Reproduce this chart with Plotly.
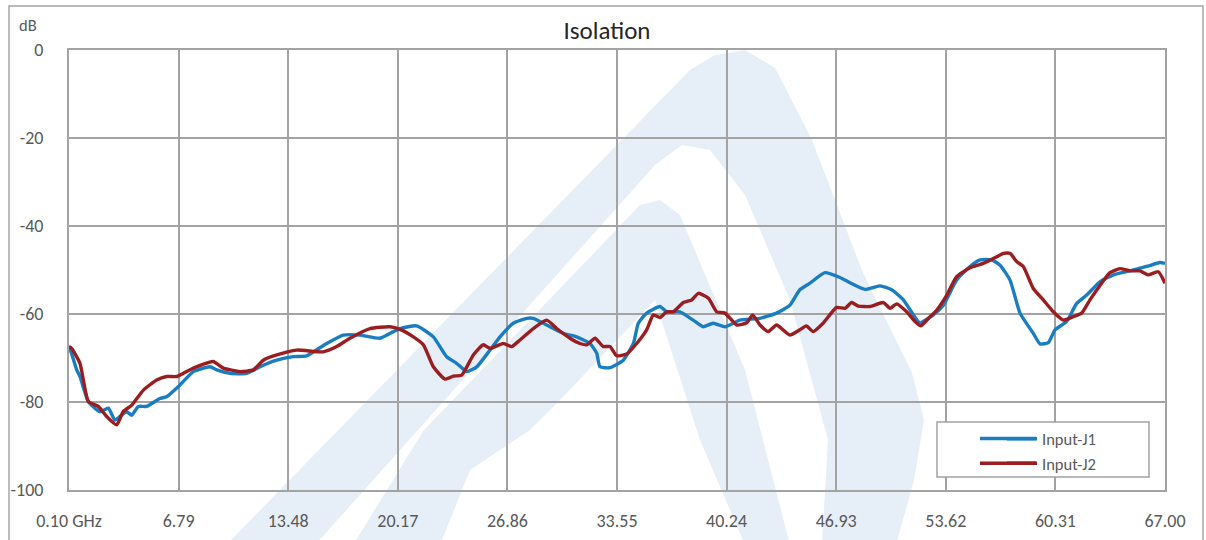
import plotly.graph_objects as go

# ---------------- data ----------------
freq_j1 = [0.10, 0.26, 0.57, 0.77, 1.28, 1.99, 2.50, 2.90, 3.30, 3.62, 3.93, 4.33, 4.84, 5.65, 6.06,
           6.88, 7.69, 8.71, 9.12, 9.93, 10.95, 11.76, 12.78, 13.79, 14.60, 15.83, 16.84, 17.86,
           19.08, 19.90, 20.30, 21.32, 22.34, 23.15, 23.76, 24.38, 24.99, 25.80, 26.41, 27.22,
           28.04, 28.44, 29.26, 30.27, 31.09, 31.90, 32.31, 32.51, 33.12, 33.93, 34.55, 34.85,
           35.36, 36.17, 36.58, 37.39, 38.20, 38.81, 39.42, 40.14, 41.05, 42.27, 43.29, 44.10,
           44.71, 45.33, 46.24, 47.16, 47.77, 48.69, 49.60, 50.32, 51.03, 51.64, 52.04, 52.86,
           53.47, 54.28, 55.10, 55.71, 56.42, 56.93, 57.54, 58.15, 58.96, 59.37, 59.88, 60.29,
           61.00, 61.61, 62.22, 63.03, 63.85, 64.86, 65.88, 66.70, 67.00]
iso_j1 = [-67.4, -69.0, -72.7, -74.2, -79.9, -82.2, -81.4, -84.1, -83.0, -82.2, -83.0, -81.0, -81.0,
          -79.2, -78.8, -76.1, -73.1, -72.0, -72.7, -73.5, -73.5, -72.0, -70.5, -69.7, -69.5,
          -66.7, -64.8, -64.8, -65.5, -64.0, -63.3, -62.7, -65.2, -69.7, -71.2, -73.1, -72.0,
          -68.2, -65.2, -62.1, -61.0, -61.0, -62.5, -64.4, -65.2, -66.7, -68.9, -72.0, -72.2,
          -70.5, -66.7, -62.1, -59.8, -58.3, -59.5, -59.5, -61.4, -62.9, -62.1, -62.9, -61.4,
          -61.0, -59.8, -58.0, -54.5, -53.0, -50.6, -51.7, -52.9, -54.4, -53.6, -54.5, -56.8,
          -60.2, -62.0, -60.2, -58.0, -52.3, -49.2, -47.7, -47.7, -48.9, -52.3, -59.8, -64.4,
          -66.8, -66.5, -63.6, -61.7, -57.6, -55.7, -52.7, -51.1, -50.2, -49.2, -48.3, -48.5]

freq_j2 = [0.10, 0.26, 0.77, 1.28, 1.89, 2.40, 3.01, 3.41, 3.93, 4.64, 5.45, 6.06, 6.67, 7.69, 8.90,
           9.52, 10.54, 11.35, 11.96, 12.78, 14.00, 15.62, 16.44, 17.25, 18.47, 19.69, 20.30,
           21.12, 21.73, 22.34, 23.05, 23.56, 24.07, 24.78, 25.39, 25.80, 26.61, 27.12, 27.63,
           28.44, 29.26, 29.87, 30.68, 31.29, 31.70, 32.21, 32.71, 33.12, 33.53, 34.14, 34.75,
           35.36, 35.77, 36.17, 36.58, 36.99, 37.60, 38.11, 38.52, 39.13, 39.64, 40.14, 40.86,
           41.47, 41.83, 42.28, 42.78, 43.29, 44.10, 44.71, 45.11, 45.52, 46.13, 46.95, 47.47,
           47.87, 48.28, 48.99, 49.81, 50.22, 50.62, 51.23, 51.74, 52.09, 52.66, 53.07, 53.68,
           54.28, 55.10, 55.91, 56.73, 57.13, 57.54, 57.95, 58.35, 58.96, 59.57, 60.18, 60.79,
           61.40, 61.91, 62.42, 63.13, 63.64, 64.25, 64.86, 65.47, 65.98, 66.59, 67.00]
iso_j2 = [-67.4, -67.8, -71.2, -79.9, -81.0, -83.3, -85.2, -82.2, -80.7, -77.3, -75.0, -74.2, -74.2,
          -72.3, -70.8, -72.3, -73.1, -72.7, -70.5, -69.3, -68.2, -68.6, -67.4, -65.5, -63.3,
          -62.9, -63.5, -65.2, -67.0, -72.0, -74.8, -74.1, -73.9, -69.3, -67.0, -67.8, -66.7,
          -67.4, -65.9, -63.3, -61.4, -63.3, -65.5, -66.7, -67.0, -65.5, -67.4, -67.4, -69.5,
          -69.1, -66.7, -63.6, -60.2, -60.8, -59.5, -59.5, -57.4, -56.8, -55.3, -56.4, -59.5,
          -59.8, -62.5, -62.0, -60.2, -62.5, -64.0, -62.5, -64.8, -63.6, -62.7, -64.0, -62.1,
          -58.5, -58.7, -57.4, -58.2, -58.3, -57.4, -58.7, -57.7, -59.5, -61.7, -62.7, -60.6,
          -59.1, -55.7, -51.5, -49.5, -48.5, -47.0, -46.2, -46.2, -48.1, -49.2, -54.2, -56.8,
          -59.5, -61.4, -60.6, -59.8, -56.8, -53.0, -50.6, -49.7, -50.2, -50.2, -51.1, -50.4,
          -53.0]

series_names = ["Input-J1", "Input-J2"]
x_tick_vals = [0.10, 6.79, 13.48, 20.17, 26.86, 33.55, 40.24, 46.93, 53.62, 60.31, 67.00]
x_tick_text = ["0.10 GHz", "6.79", "13.48", "20.17", "26.86", "33.55", "40.24", "46.93",
               "53.62", "60.31", "67.00"]
y_tick_vals = [0, -20, -40, -60, -80, -100]
y_tick_text = ["0", "-20", "-40", "-60", "-80", "-100"]

# ---------------- styling ----------------
W, H = 1206, 540
L, R, T, B = 69, 1165, 50, 490
FONT = "Calibri, Carlito, Lato, sans-serif"
GRID = "#A3A3A3"
TXT = "#595959"
BLUE = "#1A7DC2"
RED = "#9B1D20"
WM = "#E6EEF7"


def px(x):
    return (x - L) / (R - L)


def py(y):
    return (B - y) / (B - T)


def path(pts):
    return "M " + " L ".join(f"{px(a):.4f},{py(b):.4f}" for a, b in pts) + " Z"


fig = go.Figure()
fig.add_trace(go.Scatter(x=freq_j1, y=iso_j1, mode="lines", name=series_names[0],
                         line=dict(color=BLUE, width=3.4, shape="spline", smoothing=0.5)))
fig.add_trace(go.Scatter(x=freq_j2, y=iso_j2, mode="lines", name=series_names[1],
                         line=dict(color=RED, width=3.4, shape="spline", smoothing=0.5)))

shapes = []
# faint watermark logo (decorative)
outer = [(231, 540), (690, 70), (715, 55), (745, 50), (775, 68), (812, 140), (863, 273),
         (912, 373), (924, 420), (914, 480), (896, 545), (822, 545), (828, 440), (790, 300),
         (745, 195), (710, 150), (682, 145), (655, 165), (315, 545)]
shapes.append(dict(type="path", path=path(outer), xref="paper", yref="paper",
                   fillcolor=WM, line=dict(width=0), layer="below"))
inner_a = [(353, 545), (424, 430), (640, 205), (660, 200), (680, 215), (745, 370), (790, 545),
           (745, 545), (700, 440), (655, 300), (560, 400), (530, 430), (470, 470), (440, 545)]
shapes.append(dict(type="path", path=path(inner_a), xref="paper", yref="paper",
                   fillcolor=WM, line=dict(width=0), layer="below"))

# legend box
shapes.append(dict(type="rect", xref="paper", yref="paper", x0=px(937), x1=px(1149),
                   y0=py(477), y1=py(422), line=dict(color=GRID, width=1.5),
                   fillcolor="white", layer="above"))
# longer legend line samples, laid over the legend's own short samples
for yy, col in ((438.5, BLUE), (463.2, RED)):
    shapes.append(dict(type="line", xref="paper", yref="paper", x0=px(980), x1=px(1036),
                       y0=py(yy), y1=py(yy), line=dict(color=col, width=3.4),
                       layer="above"))
# outer chart frame
shapes.append(dict(type="rect", xref="paper", yref="paper", x0=px(9), x1=px(1203),
                   y0=py(580), y1=py(6), line=dict(color="#A6A6A6", width=1.5),
                   fillcolor="rgba(0,0,0,0)", layer="above"))

fig.update_layout(
    width=W, height=H,
    margin=dict(l=L, r=W - R, t=T, b=H - B, autoexpand=False),
    paper_bgcolor="white", plot_bgcolor="rgba(0,0,0,0)",
    font=dict(family=FONT, color=TXT, size=18),
    title=dict(text="Isolation", x=607 / W, xanchor="center", y=1 - 30 / H,
               yanchor="middle", font=dict(size=25, color="#262626", family=FONT)),
    showlegend=True,
    legend=dict(x=px(1002), y=py(421.5), xanchor="left", yanchor="top",
                bgcolor="rgba(0,0,0,0)", borderwidth=0, font=dict(size=16.5, color=TXT),
                tracegroupgap=0),
    shapes=shapes,
    annotations=[dict(text="dB", xref="paper", yref="paper", x=px(17), y=py(25),
                      xanchor="left", yanchor="middle", showarrow=False,
                      font=dict(size=16.5, color=TXT, family=FONT))],
)

fig.update_xaxes(range=[0.10, 67.00], tickvals=x_tick_vals, ticktext=x_tick_text,
                 showgrid=True, gridcolor=GRID, gridwidth=2, zeroline=False,
                 showline=True, linecolor=GRID, linewidth=2, mirror=True, automargin=False,
                 ticks="", ticklabelstandoff=13, tickfont=dict(size=18, color=TXT))
fig.update_yaxes(range=[-100, 0], tickvals=y_tick_vals, ticktext=y_tick_text,
                 showgrid=True, gridcolor=GRID, gridwidth=2, zeroline=False,
                 showline=True, linecolor=GRID, linewidth=2, mirror=True, automargin=False,
                 ticks="", ticklabelstandoff=20, tickfont=dict(size=18, color=TXT))

fig.write_html("out.html", config={"displayModeBar": False},
               post_script="document.body.style.margin='0';document.body.style.overflow='hidden';")
